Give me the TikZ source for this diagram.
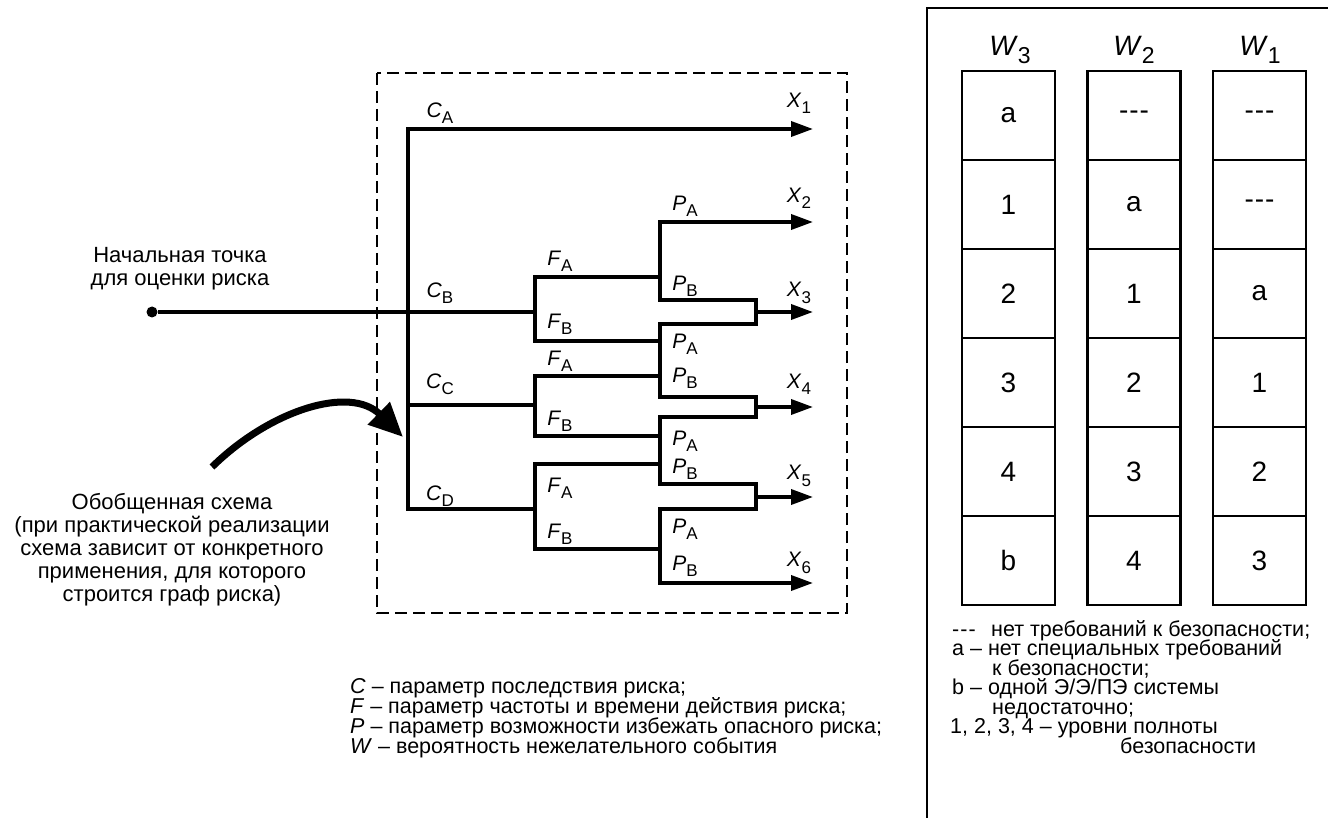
\documentclass[tikz,border=0pt]{standalone}
\usepackage{fontspec}
\setmainfont{Liberation Sans}
\usetikzlibrary{arrows.meta, positioning}
\newcommand{\prm}[3][17]{\textit{#2}\raisebox{-0.3em}{\fontsize{#1}{#1}\selectfont #3}}
\newcommand{\nil}{-\kern1pt-\kern1pt-}

\begin{document}
\begin{tikzpicture}[x=1pt, y=-1pt,
    branch/.style={line width=3.6pt},
    outarrow/.style={branch, -{Triangle[length=22pt,width=15pt]}},
    bigarrow/.style={line width=7pt, -{Triangle[length=34pt,width=30pt]}},
    dashbox/.style={line width=1.8pt, dash pattern=on 12pt off 6pt},
    lbl/.style={font=\fontsize{21}{24}\selectfont, inner sep=0pt},
    head/.style={font=\fontsize{28}{30}\selectfont, inner sep=0pt},
    txt/.style={font=\fontsize{22}{23}\selectfont, align=center, inner sep=0pt},
    note/.style={font=\fontsize{21.5}{20}\selectfont, inner sep=0pt, anchor=base west},
    cell/.style={draw, line width=2.2pt, minimum width=93pt, minimum height=89pt, inner sep=0pt, font=\fontsize{28}{30}\selectfont},
    dot/.style={circle, fill, minimum size=11pt, inner sep=0pt}]
    \useasboundingbox (0,0) rectangle (1328,818);

    \draw[dashbox] (377,73) rectangle (847,613);

    \coordinate (cA) at (408,129);
    \coordinate (cB) at (408,312);
    \coordinate (cC) at (408,405);
    \coordinate (cD) at (408,509);
    \coordinate (fB) at (535,312);
    \coordinate (fC) at (535,405);
    \coordinate (fD) at (535,509);
    \coordinate (p1) at (660,222);
    \coordinate (p4) at (660,583);
    \coordinate (j1) at (756,312);
    \coordinate (j2) at (756,407);
    \coordinate (j3) at (756,497);
    \coordinate (x1) at (813,129);
    \coordinate (x2) at (813,222);
    \coordinate (x3) at (813,312);
    \coordinate (x4) at (813,407);
    \coordinate (x5) at (813,497);
    \coordinate (x6) at (813,583);

    \node[dot] (start) at (152,312) {};
    \draw[branch] (start) -- (fB);
    \draw[outarrow] (fD) -- (cD) -- (cA) -- (x1);
    \draw[branch] (cC) -- (fC);

    \draw[branch] (660,277) -| (535,341) -- (660,341);
    \draw[branch] (660,376) -| (535,436) -- (660,436);
    \draw[branch] (660,464) -| (535,549) -- (660,549);

    \draw[outarrow] (660,300) -- (p1) -- (x2);
    \draw[outarrow] (p1) -- (660,300) -| (756,324) -- (660,324)
        -- (660,397) -| (756,417) -- (660,417)
        -- (660,484) -| (756,509) -- (660,509) -- (p4) -- (x6);
    \draw[outarrow] (j1) -- (x3);
    \draw[outarrow] (j2) -- (x4);
    \draw[outarrow] (j3) -- (x5);

    \node[lbl] (lCA) at (440,113) {\prm{C}{A}};
    \node[lbl] (lCB) at (440,293) {\prm{C}{B}};
    \node[lbl] (lCC) at (440,384) {\prm{C}{C}};
    \node[lbl] (lCD) at (440,496) {\prm{C}{D}};
    \node[lbl] (lFA1) at (560,261) {\prm{F}{A}};
    \node[lbl] (lFB1) at (560,324) {\prm{F}{B}};
    \node[lbl] (lFA2) at (560,361) {\prm{F}{A}};
    \node[lbl] (lFB2) at (560,421) {\prm{F}{B}};
    \node[lbl] (lFA3) at (560,488) {\prm{F}{A}};
    \node[lbl] (lFB3) at (560,534) {\prm{F}{B}};
    \node[lbl] (lPA1) at (685,206) {\prm{P}{A}};
    \node[lbl] (lPB1) at (685,286) {\prm{P}{B}};
    \node[lbl] (lPA2) at (685,344) {\prm{P}{A}};
    \node[lbl] (lPB2) at (685,378) {\prm{P}{B}};
    \node[lbl] (lPA3) at (685,441) {\prm{P}{A}};
    \node[lbl] (lPB3) at (685,469) {\prm{P}{B}};
    \node[lbl] (lPA4) at (685,529) {\prm{P}{A}};
    \node[lbl] (lPB4) at (685,566) {\prm{P}{B}};
    \node[lbl] (lX1) at (799,103) {\prm{X}{1}};
    \node[lbl] (lX2) at (799,198) {\prm{X}{2}};
    \node[lbl] (lX3) at (799,293) {\prm{X}{3}};
    \node[lbl] (lX4) at (799,384) {\prm{X}{4}};
    \node[lbl] (lX5) at (799,476) {\prm{X}{5}};
    \node[lbl] (lX6) at (799,563) {\prm{X}{6}};

    \node[txt] (origin) at (180,269) {Начальная точка\\для оценки риска};
    \node[txt] (generic) at (172,550) {Обобщенная схема\\(при практической реализации\\схема зависит от конкретного\\применения, для которого\\строится граф риска)};
    \coordinate (bend) at (403,437);
    \draw[bigarrow] (212,467) .. controls (270,410) and (350,385) .. (bend);

    \node[note] (legC) at (350,693) {\textit{C} – параметр последствия риска;};
    \node[note] (legF) at (350,713) {\textit{F} – параметр частоты и времени действия риска;};
    \node[note] (legP) at (350,733) {\textit{P} – параметр возможности избежать опасного риска;};
    \node[note] (legW) at (350,753) {\textit{W} – вероятность нежелательного события};

    \draw[line width=2pt] (1328,8) -- (927,8) -- (927,818);
    \node[head] (w3) at (1010,50) {\prm[23]{W}{3}};
    \node[head] (w2) at (1134,50) {\prm[23]{W}{2}};
    \node[head] (w1) at (1260,50) {\prm[23]{W}{1}};
    \foreach \a/\b/\c [count=\r] in {a/\nil/\nil, 1/a/\nil, 2/1/a, 3/2/1, 4/3/2, b/4/3} {
        \node[cell] (c3-\r) at (1008.5,{26.5+89*\r}) {\a};
        \node[cell] (c2-\r) at (1134,{26.5+89*\r}) {\b};
        \node[cell] (c1-\r) at (1259.5,{26.5+89*\r}) {\c};
    }

    \node[note] (key1) at (952,636) {\nil};
    \node[note] (key1t) at (991,636) {нет требований к безопасности;};
    \node[note] (key2) at (952,655.5) {a – нет специальных требований};
    \node[note] (key2t) at (992,675) {к безопасности;};
    \node[note] (key3) at (952,694.5) {b – одной Э/Э/ПЭ системы};
    \node[note] (key3t) at (992,714) {недостаточно;};
    \node[note] (key4) at (950,733.5) {1, 2, 3, 4 – уровни полноты};
    \node[note] (key4t) at (1120,753) {безопасности};
\end{tikzpicture}
\end{document}
